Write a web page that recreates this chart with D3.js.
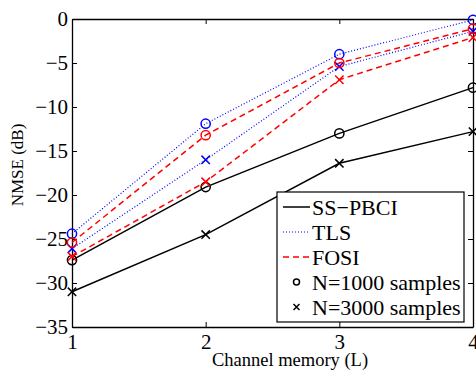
<!DOCTYPE html>
<html>
<head>
<meta charset="utf-8">
<script src="https://cdn.jsdelivr.net/npm/d3@7"></script>
<style>
  body { margin: 0; background: #fff; }
  svg { display: block; font-family: "Liberation Serif", "Times New Roman", serif; }
</style>
</head>
<body>
<svg width="476" height="373"></svg>
<script>
// channel memory L
var memory = [1, 2, 3, 4];

// NMSE (dB)
var pbci1000 = [-27.4, -19.1, -13.0, -7.8],
  pbci3000 = [-31.0, -24.5, -16.4, -12.8],
  tls1000 = [-24.4, -11.9, -4.0, -0.1],
  tls3000 = [-26.1, -16.0, -5.4, -1.4],
  fosi1000 = [-25.4, -13.2, -5.0, -1.1],
  fosi3000 = [-27.0, -18.5, -6.9, -2.1];

var xTicks = [1, 2, 3, 4],
  yTicks = [0, -5, -10, -15, -20, -25, -30, -35];

var methods = ["SS\u2212PBCI", "TLS", "FOSI"],
  sampleLabels = ["N=1000 samples", "N=3000 samples"];

var mLeft = 72, mTop = 19, mRight = 473, mBottom = 327;

var svg = d3.select("svg");

var x = d3.scaleLinear().domain([1, 4]).range([mLeft, mRight]),
  y = d3.scaleLinear().domain([-35, 0]).range([mBottom, mTop]);

var styles = {
  "SS\u2212PBCI": {color: "#000", width: 1.5, dash: null},
  "TLS": {color: "#0000ff", width: 1.2, dash: "1,2"},
  "FOSI": {color: "#ff0000", width: 1.5, dash: "6,4"}
};

var series = [
  {method: "SS\u2212PBCI", mark: "o", values: pbci1000},
  {method: "SS\u2212PBCI", mark: "x", values: pbci3000},
  {method: "TLS", mark: "o", values: tls1000},
  {method: "TLS", mark: "x", values: tls3000},
  {method: "FOSI", mark: "o", values: fosi1000},
  {method: "FOSI", mark: "x", values: fosi3000}
];

// axes (matlab style box, ticks inside)
var tickLen = 5;
svg.append("g")
  .attr("transform", "translate(0," + mBottom + ")")
  .call(d3.axisBottom(x).tickValues(xTicks).tickSizeInner(-tickLen).tickSizeOuter(0).tickPadding(7).tickFormat(d3.format("d")));
svg.append("g")
  .attr("transform", "translate(0," + mTop + ")")
  .call(d3.axisTop(x).tickValues(xTicks).tickSizeInner(-tickLen).tickSizeOuter(0).tickFormat(""));
svg.append("g")
  .attr("transform", "translate(" + mLeft + ",0)")
  .call(d3.axisLeft(y).tickValues(yTicks).tickSizeInner(-tickLen).tickSizeOuter(0).tickPadding(4)
    .tickFormat(function(d) { return d < 0 ? "\u2212" + (-d) : d; }));
svg.append("g")
  .attr("transform", "translate(" + mRight + ",0)")
  .call(d3.axisRight(y).tickValues(yTicks).tickSizeInner(-tickLen).tickSizeOuter(0).tickFormat(""));

svg.selectAll(".domain").attr("stroke", "#000").attr("stroke-width", 1.3);
svg.selectAll(".tick line").attr("stroke", "#000");
svg.selectAll(".tick text").attr("font-family", "Liberation Serif").attr("font-size", 21).attr("fill", "#000");

// lines
var line = d3.line()
  .x(function(d, i) { return x(memory[i]); })
  .y(function(d) { return y(d); });

var plot = svg.append("g");

series.forEach(function(s) {
  var st = styles[s.method];
  plot.append("path")
    .attr("d", line(s.values))
    .attr("fill", "none")
    .attr("stroke", st.color)
    .attr("stroke-width", st.width)
    .attr("stroke-dasharray", st.dash);
});

function drawMark(g, mark, cx, cy, color) {
  if (mark == "o") {
    g.append("circle").attr("cx", cx).attr("cy", cy).attr("r", 4.6)
      .attr("fill", "none").attr("stroke", color).attr("stroke-width", 1.5);
  } else {
    var r = 4.2;
    g.append("path")
      .attr("d", "M" + (cx - r) + "," + (cy - r) + "L" + (cx + r) + "," + (cy + r) +
        "M" + (cx - r) + "," + (cy + r) + "L" + (cx + r) + "," + (cy - r))
      .attr("stroke", color).attr("stroke-width", 1.5);
  }
}

series.forEach(function(s) {
  s.values.forEach(function(v, i) {
    drawMark(plot, s.mark, x(memory[i]), y(v), styles[s.method].color);
  });
});

// axis labels
svg.append("text")
  .attr("x", 290).attr("y", 366)
  .attr("text-anchor", "middle")
  .attr("font-size", 18.5)
  .text("Channel memory (L)");

svg.append("text")
  .attr("transform", "translate(23,165) rotate(-90)")
  .attr("text-anchor", "middle")
  .attr("font-size", 17)
  .text("NMSE (dB)");

// legend
var lg = svg.append("g").attr("transform", "translate(277,192)");
lg.append("rect")
  .attr("width", 187).attr("height", 130)
  .attr("fill", "#fff").attr("stroke", "#000").attr("stroke-width", 1.2);

var rowH = 25, row0 = 15;
methods.forEach(function(m, i) {
  var st = styles[m], yy = row0 + i * rowH;
  lg.append("line")
    .attr("x1", 6).attr("x2", 33).attr("y1", yy).attr("y2", yy)
    .attr("stroke", st.color).attr("stroke-width", st.width)
    .attr("stroke-dasharray", st.dash);
  lg.append("text").attr("x", 35).attr("y", yy).attr("dy", "0.35em")
    .attr("font-size", 22).text(m);
});
sampleLabels.forEach(function(lbl, i) {
  var yy = row0 + (i + 3) * rowH;
  if (i == 0) {
    lg.append("circle").attr("cx", 19.5).attr("cy", yy).attr("r", 3)
      .attr("fill", "none").attr("stroke", "#000").attr("stroke-width", 1.5);
  } else {
    var r = 3;
    lg.append("path")
      .attr("d", "M" + (19.5 - r) + "," + (yy - r) + "L" + (19.5 + r) + "," + (yy + r) +
        "M" + (19.5 - r) + "," + (yy + r) + "L" + (19.5 + r) + "," + (yy - r))
      .attr("stroke", "#000").attr("stroke-width", 1.5);
  }
  lg.append("text").attr("x", 35).attr("y", yy).attr("dy", "0.35em")
    .attr("font-size", 22).text(lbl);
});
</script>
</body>
</html>
